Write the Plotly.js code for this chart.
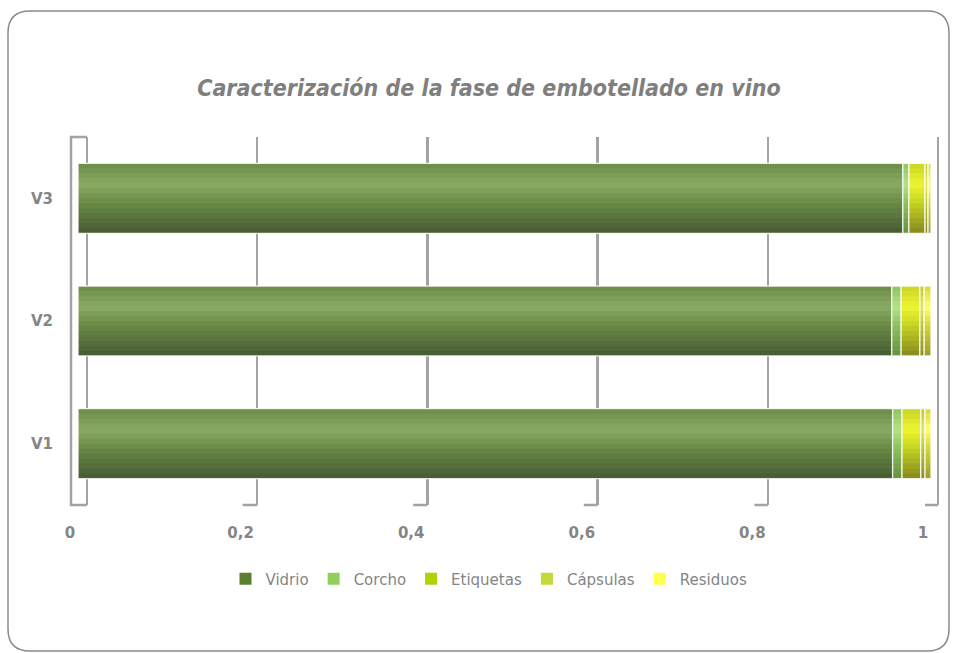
<!DOCTYPE html>
<html>
<head>
<meta charset="utf-8">
<script src="https://cdn.plot.ly/plotly-3.0.1.min.js"></script>
<style>html,body{margin:0;padding:0;background:#fff;}#chart{width:955px;height:653px;}</style>
</head>
<body>
<div id="chart"></div>
<script>
// ---- data ----
const categories = ['V1', 'V2', 'V3'];
const vidrio    = [0.955, 0.954, 0.967];
const corcho    = [0.011, 0.011, 0.007];
const etiquetas = [0.022, 0.022, 0.019];
const capsulas  = [0.005, 0.005, 0.0035];
const residuos  = [0.007, 0.008, 0.0035];
const seriesNames = ['Vidrio', 'Corcho', 'Etiquetas', 'Cápsulas', 'Residuos'];
const tickVals = [0, 0.2, 0.4, 0.6, 0.8, 1];
const chartTitle = 'Caracterización de la fase de embotellado en vino';

// ---- styles ----
const legendColors = ['#5b7f2f', '#92cf5a', '#b5d000', '#c3d93a', '#ffff4d'];
const gradStops = [
  ['#6b8b46', '#89ab64', '#465a34'],
  ['#8fc262', '#b4e488', '#66903e'],
  ['#c6d622', '#eef532', '#86881e'],
  ['#bcc83c', '#e2ea62', '#8a8c2c'],
  ['#d8d83a', '#ffff72', '#9c9c2c']
];

const W = 955, H = 653;
const L = 70, R = 945, T = 137, B = 505;
const pw = R - L, ph = B - T;
const midScale = 853, midZero = 78;
const frontScale = 853, frontZero = 70;
const backScale = 851, backZero = 87;

function hex2rgb(h) { return [1, 3, 5].map(i => parseInt(h.substr(i, 2), 16)); }
function mix(a, b, t) {
  const A = hex2rgb(a), Bc = hex2rgb(b);
  return 'rgb(' + A.map((v, i) => Math.round(v + (Bc[i] - v) * t)).join(',') + ')';
}
function gradColor(stops, t) {
  if (t < 0.3) return mix(stops[0], stops[1], t / 0.3);
  if (t < 0.55) return mix(stops[1], stops[0], (t - 0.3) / 0.25);
  return mix(stops[0], stops[2], (t - 0.55) / 0.45);
}

const allSeries = [vidrio, corcho, etiquetas, capsulas, residuos];
const barW = 0.57;
const nBands = 14;
const traces = [];

// empty helper traces so the overlaying axes (front labels / back grid) are drawn
traces.push({ type: 'scatter', x: [], y: [], xaxis: 'x3', yaxis: 'y', showlegend: false, hoverinfo: 'skip' });
traces.push({ type: 'scatter', x: [], y: [], xaxis: 'x2', yaxis: 'y', showlegend: false, hoverinfo: 'skip' });

const cum = categories.map(() => 0);
allSeries.forEach((vals, si) => {
  const base = cum.slice();
  traces.push({
    type: 'bar', orientation: 'h', name: seriesNames[si],
    y: categories, x: vals, base: base,
    width: barW, offset: -barW / 2,
    marker: { color: legendColors[si], line: { width: 0 } },
    legendgroup: seriesNames[si], showlegend: true, hoverinfo: 'skip'
  });
  const bw = barW / nBands;
  for (let i = 0; i < nBands; i++) {
    const t = (i + 0.5) / nBands;
    const extra = i < nBands - 1 ? 0.012 : 0;
    traces.push({
      type: 'bar', orientation: 'h', y: categories, x: vals, base: base,
      width: bw + extra, offset: barW / 2 - (i + 1) * bw - extra,
      marker: { color: gradColor(gradStops[si], t), line: { width: 0 } },
      legendgroup: seriesNames[si], showlegend: false, hoverinfo: 'skip'
    });
  }
  traces.push({
    type: 'bar', orientation: 'h', y: categories, x: vals, base: base,
    width: barW, offset: -barW / 2,
    marker: { color: 'rgba(0,0,0,0)', line: { width: 1.3, color: 'rgba(255,255,255,0.85)' } },
    legendgroup: seriesNames[si], showlegend: false, hoverinfo: 'skip'
  });
  vals.forEach((v, k) => { cum[k] += v; });
});

// ---- decoration shapes (3D wall/floor look) ----
const px = x => (x - L) / pw;
const py = y => (B - y) / ph;
const gridCol = '#a3a3a3';
const shapes = [];
shapes.push({ type: 'path', xref: 'paper', yref: 'paper',
  path: `M ${px(87)} ${py(T)} L ${px(71)} ${py(T)} L ${px(71)} ${py(B)} L ${px(87)} ${py(B)}`,
  line: { color: gridCol, width: 2.5 }, layer: 'below' });
tickVals.forEach(v => {
  if (v === 0) return;
  const bx = backZero + v * backScale, fx = frontZero + v * frontScale + 2;
  shapes.push({ type: 'line', xref: 'paper', yref: 'paper',
    x0: px(bx), x1: px(fx), y0: py(B), y1: py(B), line: { color: gridCol, width: 2.5 }, layer: 'below' });
});
const r = 22, bx0 = 8, by0 = 11, bx1 = 949, by1 = 651;
shapes.push({ type: 'path', xref: 'paper', yref: 'paper',
  path: `M ${px(bx0)} ${py(by0 + r)} Q ${px(bx0)} ${py(by0)} ${px(bx0 + r)} ${py(by0)} L ${px(bx1 - r)} ${py(by0)} Q ${px(bx1)} ${py(by0)} ${px(bx1)} ${py(by0 + r)} L ${px(bx1)} ${py(by1 - r)} Q ${px(bx1)} ${py(by1)} ${px(bx1 - r)} ${py(by1)} L ${px(bx0 + r)} ${py(by1)} Q ${px(bx0)} ${py(by1)} ${px(bx0)} ${py(by1 - r)} Z`,
  line: { color: '#8a8a8a', width: 1.5 }, layer: 'below' });

const axisFont = { family: 'DejaVu Sans', size: 15, color: '#858585', weight: 'bold' };

const layout = {
  width: W, height: H,
  margin: { l: L, r: W - R, t: T, b: H - B, pad: 0 },
  paper_bgcolor: '#ffffff', plot_bgcolor: 'rgba(0,0,0,0)',
  separators: ',.',
  barmode: 'overlay',
  showlegend: true,
  title: {
    text: chartTitle,
    font: { family: 'DejaVu Sans Condensed, DejaVu Sans', size: 23, color: '#7f7f7f', weight: 'bold', style: 'italic' },
    x: 489 / W, xref: 'container', xanchor: 'center',
    y: 1 - 88 / H, yref: 'container', yanchor: 'middle'
  },
  xaxis: {
    domain: [0, 1], range: [(L - midZero) / midScale, (R - midZero) / midScale],
    showgrid: false, zeroline: false, showticklabels: false, showline: false, fixedrange: true
  },
  xaxis2: {
    overlaying: 'x', anchor: 'y', side: 'bottom',
    range: [(L - frontZero) / frontScale, (R - frontZero) / frontScale],
    tickmode: 'array', tickvals: tickVals,
    showgrid: false, zeroline: false, showline: false, ticks: '',
    ticklabelstandoff: 17, tickfont: axisFont
  },
  xaxis3: {
    overlaying: 'x', anchor: 'y', side: 'bottom',
    range: [(L - backZero) / backScale, (R - backZero) / backScale],
    tickmode: 'array', tickvals: tickVals,
    showgrid: true, gridcolor: gridCol, gridwidth: 2.5,
    zeroline: false, showline: false, showticklabels: false, ticks: ''
  },
  yaxis: {
    type: 'category', categoryorder: 'array', categoryarray: categories,
    range: [-0.5, 2.5], showgrid: false, zeroline: false, showline: false, ticks: '',
    ticklabelstandoff: 16, tickfont: axisFont, fixedrange: true
  },
  legend: {
    orientation: 'h', x: px(489), xanchor: 'center', y: py(579), yanchor: 'middle',
    font: { family: 'DejaVu Sans', size: 15, color: '#858585' },
    itemwidth: 30, traceorder: 'normal', bgcolor: 'rgba(0,0,0,0)'
  },
  shapes: shapes
};

Plotly.newPlot('chart', traces, layout, { staticPlot: true, displayModeBar: false });
</script>
</body>
</html>
